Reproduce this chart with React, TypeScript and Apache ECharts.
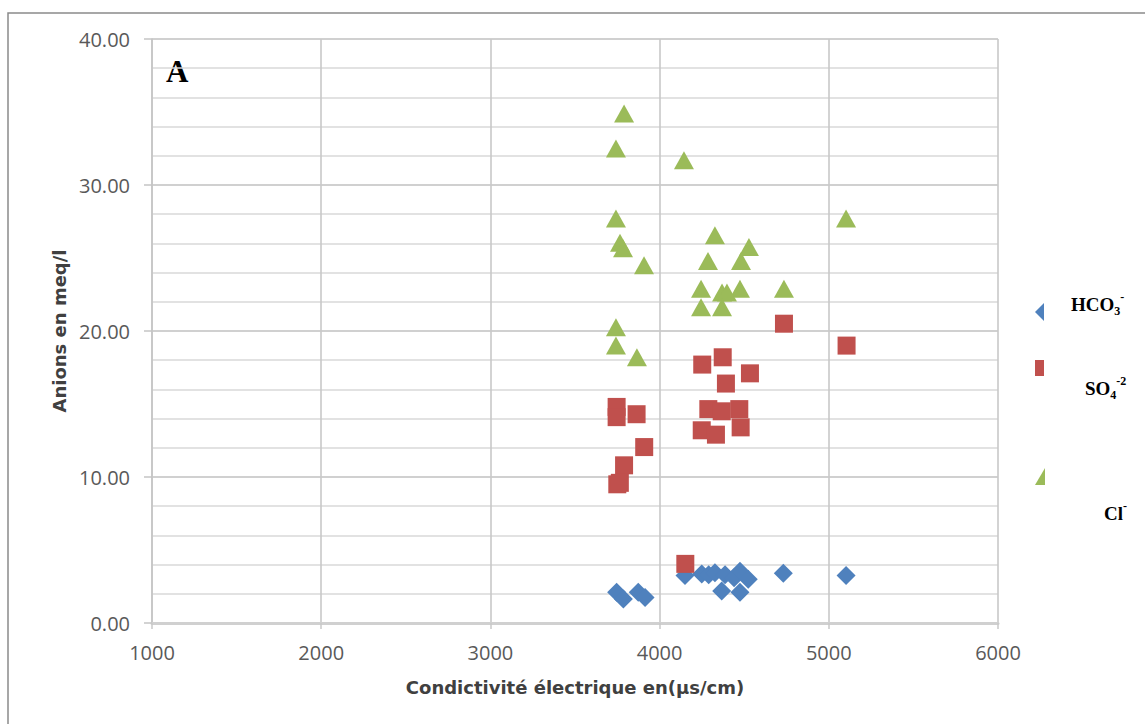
import React, { useEffect, useRef } from "react";
import * as echarts from "echarts";

// Conductivity (µS/cm) and anion content (meq/l) per sample
const hco3Cond = [3746, 3786, 3874, 3914, 4150, 4249, 4290, 4327, 4387, 4367, 4440, 4475, 4475, 4524, 4731, 5102];
const hco3Val = [2.1, 1.65, 2.1, 1.75, 3.25, 3.35, 3.3, 3.45, 3.3, 2.2, 3.1, 3.55, 2.1, 3.0, 3.4, 3.25];

const so4Cond = [4735, 5105, 4252, 4373, 4534, 4392, 3746, 3746, 3864, 4288, 4367, 4471, 4479, 4249, 4333, 3909, 3790, 3750, 3765, 4152];
const so4Val = [20.5, 19.0, 17.7, 18.2, 17.1, 16.4, 14.8, 14.1, 14.3, 14.65, 14.5, 14.65, 13.4, 13.2, 12.9, 12.05, 10.8, 9.5, 9.6, 4.05];

const clCond = [3790, 3742, 4144, 3742, 5102, 3766, 3784, 4327, 4528, 3908, 4286, 4481, 4245, 4735, 4475, 4369, 4398, 4245, 4369, 3742, 3742, 3866];
const clVal = [34.9, 32.5, 31.7, 27.7, 27.7, 26.05, 25.66, 26.55, 25.75, 24.5, 24.8, 24.8, 22.9, 22.9, 22.9, 22.64, 22.64, 21.63, 21.63, 20.26, 19.0, 18.2];

const seriesNames = ["HCO3-", "SO4-2", "Cl-"];
const seriesColors = ["#4F81BD", "#C0504D", "#9BBB59"];

const pairs = (xs: number[], ys: number[]) => xs.map((x, i) => [x, ys[i]]);

const richLegend = {
  b: { fontFamily: "Liberation Serif", fontWeight: "bold", fontSize: 19, color: "#000", lineHeight: 26, verticalAlign: "middle" },
  s: { fontFamily: "Liberation Serif", fontWeight: "bold", fontSize: 12, color: "#000", lineHeight: 26, verticalAlign: "bottom" },
  p: { fontFamily: "Liberation Serif", fontWeight: "bold", fontSize: 12, color: "#000", lineHeight: 26, verticalAlign: "top" },
};

export default function App() {
  const ref = useRef<HTMLDivElement>(null);

  useEffect(() => {
    if (!ref.current) return;
    const chart = echarts.init(ref.current, null, { renderer: "svg" });

    const option: any = {
      animation: false,
      backgroundColor: "#ffffff",
      grid: { left: 152, right: 147, top: 39, bottom: 101, outerBoundsMode: "none" },
      xAxis: {
        type: "value",
        min: 1000,
        max: 6000,
        interval: 1000,
        name: "Condictivité électrique en(µs/cm)",
        nameLocation: "middle",
        nameGap: 55,
        nameTextStyle: { fontFamily: "DejaVu Sans", fontWeight: "bold", fontSize: 18, color: "#404040" },
        axisLine: { show: true, lineStyle: { color: "#d0d0d0", width: 3 } },
        axisTick: { show: true, length: 6, lineStyle: { color: "#c8c8c8", width: 1.5 } },
        axisLabel: {
          fontFamily: "Open Sans",
          fontSize: 20,
          color: "#595959",
          margin: 19,
          formatter: (v: number) => String(v),
        },
        splitLine: { show: true, lineStyle: { color: "#c8c8c8", width: 1.6 } },
      },
      yAxis: {
        type: "value",
        min: 0,
        max: 40,
        interval: 10,
        name: "Anions en meq/l",
        nameLocation: "middle",
        nameGap: 82,
        nameTextStyle: { fontFamily: "DejaVu Sans", fontWeight: "bold", fontSize: 18, color: "#404040" },
        axisLine: { show: true, lineStyle: { color: "#c4c4c4", width: 1.5 } },
        axisTick: { show: true, length: 8, lineStyle: { color: "#c4c4c4", width: 1.5 } },
        axisLabel: {
          fontFamily: "Open Sans",
          fontSize: 20,
          color: "#595959",
          margin: 22,
          formatter: (v: number) => v.toFixed(2),
        },
        splitLine: { show: true, lineStyle: { color: "#c0c0c0", width: 1.6 } },
        minorTick: { show: false, splitNumber: 5 },
        minorSplitLine: { show: true, lineStyle: { color: "#d8d8d8", width: 1.6 } },
      },
      series: [
        {
          name: seriesNames[0],
          type: "scatter",
          symbol: "diamond",
          symbolSize: 19,
          itemStyle: { color: seriesColors[0], opacity: 1 },
          data: pairs(hco3Cond, hco3Val),
        },
        {
          name: seriesNames[1],
          type: "scatter",
          symbol: "rect",
          symbolSize: 18,
          itemStyle: { color: seriesColors[1], opacity: 1 },
          data: pairs(so4Cond, so4Val),
        },
        {
          name: seriesNames[2],
          type: "scatter",
          symbol: "triangle",
          symbolSize: [20, 18],
          itemStyle: { color: seriesColors[2], opacity: 1 },
          data: pairs(clCond, clVal),
        },
      ],
      graphic: [
        // outer chart frame
        {
          type: "rect",
          silent: true,
          shape: { x: 8, y: 13, width: 1200, height: 800 },
          style: { fill: "none", stroke: "#8a8a8a", lineWidth: 1.5 },
        },
        // panel letter
        {
          type: "text",
          left: 166,
          top: 56,
          style: { text: "A", fontFamily: "Liberation Serif", fontWeight: "bold", fontSize: 31, fill: "#000" },
        },
        // legend keys (partly hidden behind the legend labels)
        {
          type: "polygon",
          shape: { points: [[1035, 312], [1044, 303], [1044, 321]] },
          style: { fill: seriesColors[0] },
        },
        {
          type: "rect",
          shape: { x: 1035, y: 360, width: 9, height: 16 },
          style: { fill: seriesColors[1] },
        },
        {
          type: "polygon",
          shape: { points: [[1035, 485], [1045, 468], [1045, 485]] },
          style: { fill: seriesColors[2] },
        },
        // legend labels
        {
          type: "text",
          x: 1071,
          y: 304,
          style: { text: "{b|HCO}{s|3}{p|-}", rich: richLegend, verticalAlign: "middle", align: "left" },
        },
        {
          type: "text",
          x: 1085,
          y: 388,
          style: { text: "{b|SO}{s|4}{p|-2}", rich: richLegend, verticalAlign: "middle", align: "left" },
        },
        {
          type: "text",
          x: 1104,
          y: 513,
          style: { text: "{b|Cl}{p|-}", rich: richLegend, verticalAlign: "middle", align: "left" },
        },
      ],
    };

    chart.setOption(option);
    return () => chart.dispose();
  }, []);

  return (
    <div
      ref={ref}
      style={{ position: "fixed", left: 0, top: 0, width: 1145, height: 724, background: "#fff" }}
    />
  );
}
